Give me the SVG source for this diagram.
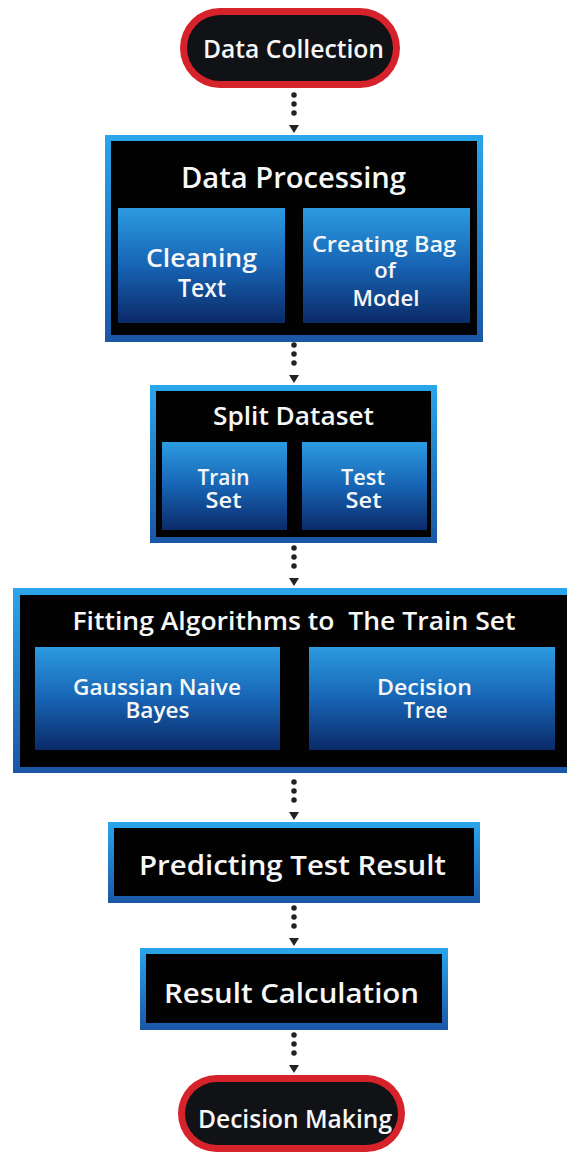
<svg xmlns="http://www.w3.org/2000/svg" width="567" height="1152" viewBox="0 0 567 1152">
  <defs>
    <linearGradient id="frame" x1="0" y1="0" x2="0" y2="1">
      <stop offset="0" stop-color="#2aa6ea"/>
      <stop offset="1" stop-color="#1a56a6"/>
    </linearGradient>
    <linearGradient id="sub" x1="0" y1="0" x2="0" y2="1">
      <stop offset="0" stop-color="#2c9be0"/>
      <stop offset="0.5" stop-color="#1764b4"/>
      <stop offset="1" stop-color="#0b2a68"/>
    </linearGradient>
    <marker id="arr" markerUnits="userSpaceOnUse" orient="auto" markerWidth="20" markerHeight="20" refX="0" refY="0" overflow="visible">
      <path d="M3,-5 L3,5 L11,0 Z" fill="#222"/>
    </marker>
    <style>
      .frame { fill: url(#frame); }
      .black { fill: #020203; }
      .sub { fill: url(#sub); }
      .pillOut { fill: #d6222a; }
      .pillIn { fill: #111216; }
      text { font-family: "Open Sans", "Liberation Sans", sans-serif; font-weight: 600; fill: #f7f7f7; text-anchor: middle; }
      .dots { stroke: #222; stroke-width: 5.5; stroke-linecap: round; stroke-dasharray: 0 9; fill: none; marker-end: url(#arr); }
    </style>
  </defs>
  <rect width="567" height="1152" fill="#ffffff"/>

  <g id="connectors">
    <line class="dots" x1="294" y1="95" x2="294" y2="122"/>
    <line class="dots" x1="294" y1="345" x2="294" y2="372"/>
    <line class="dots" x1="294" y1="548" x2="294" y2="575"/>
    <line class="dots" x1="294" y1="782" x2="294" y2="809"/>
    <line class="dots" x1="294" y1="908" x2="294" y2="935"/>
    <line class="dots" x1="294" y1="1035" x2="294" y2="1062"/>
  </g>

  <g id="data-collection">
    <rect class="pillOut" x="180" y="8" width="220" height="80" rx="40"/>
    <rect class="pillIn" x="187" y="15" width="206" height="66" rx="33"/>
    <text x="293.5" y="58" font-size="26" textLength="181" lengthAdjust="spacingAndGlyphs">Data Collection</text>
  </g>

  <g id="data-processing">
    <rect class="frame" x="105" y="135" width="378" height="207"/>
    <rect class="black" x="111" y="141" width="366" height="194"/>
    <text x="293.5" y="188" font-size="28" textLength="225" lengthAdjust="spacingAndGlyphs">Data Processing</text>
    <g id="cleaning-text">
      <rect class="sub" x="118" y="208" width="167" height="115"/>
      <text x="201.5" y="267" font-size="25" textLength="111" lengthAdjust="spacingAndGlyphs">Cleaning</text>
      <text x="202" y="297" font-size="25" textLength="48" lengthAdjust="spacingAndGlyphs">Text</text>
    </g>
    <g id="creating-bag">
      <rect class="sub" x="303" y="208" width="167" height="115"/>
      <text x="384" y="252" font-size="22" textLength="144" lengthAdjust="spacingAndGlyphs">Creating Bag</text>
      <text x="385" y="278" font-size="22">of</text>
      <text x="386" y="306" font-size="22" textLength="67" lengthAdjust="spacingAndGlyphs">Model</text>
    </g>
  </g>

  <g id="split-dataset">
    <rect class="frame" x="150" y="385" width="287" height="158"/>
    <rect class="black" x="156" y="391" width="275" height="146"/>
    <text x="293.5" y="425" font-size="25" textLength="161" lengthAdjust="spacingAndGlyphs">Split Dataset</text>
    <g id="train-set">
      <rect class="sub" x="162" y="442" width="125" height="88"/>
      <text x="223.5" y="485" font-size="22" textLength="52" lengthAdjust="spacingAndGlyphs">Train</text>
      <text x="223.5" y="508" font-size="22" textLength="36" lengthAdjust="spacingAndGlyphs">Set</text>
    </g>
    <g id="test-set">
      <rect class="sub" x="302" y="442" width="125" height="88"/>
      <text x="363" y="485" font-size="22" textLength="44" lengthAdjust="spacingAndGlyphs">Test</text>
      <text x="363.5" y="508" font-size="22" textLength="36" lengthAdjust="spacingAndGlyphs">Set</text>
    </g>
  </g>

  <g id="fitting">
    <rect class="frame" x="13" y="588" width="562" height="185"/>
    <rect class="black" x="20" y="595" width="548" height="172"/>
    <text x="294" y="630" font-size="25" textLength="443" lengthAdjust="spacingAndGlyphs" xml:space="preserve">Fitting Algorithms to  The Train Set</text>
    <g id="gaussian">
      <rect class="sub" x="35" y="647" width="245" height="103"/>
      <text x="157" y="695" font-size="21" textLength="168" lengthAdjust="spacingAndGlyphs">Gaussian Naive</text>
      <text x="157.5" y="718" font-size="21" textLength="64" lengthAdjust="spacingAndGlyphs">Bayes</text>
    </g>
    <g id="decision-tree">
      <rect class="sub" x="309" y="647" width="246" height="103"/>
      <text x="424.5" y="695" font-size="21" textLength="95" lengthAdjust="spacingAndGlyphs">Decision</text>
      <text x="425.5" y="718" font-size="21" textLength="44" lengthAdjust="spacingAndGlyphs">Tree</text>
    </g>
  </g>

  <g id="predicting">
    <rect class="frame" x="108" y="822" width="372" height="81"/>
    <rect class="black" x="114" y="828" width="360" height="68"/>
    <text x="292.5" y="875" font-size="27" textLength="307" lengthAdjust="spacingAndGlyphs">Predicting Test Result</text>
  </g>

  <g id="result-calculation">
    <rect class="frame" x="140" y="948" width="308" height="82"/>
    <rect class="black" x="146" y="954" width="296" height="69"/>
    <text x="291.5" y="1003" font-size="27" textLength="255" lengthAdjust="spacingAndGlyphs">Result Calculation</text>
  </g>

  <g id="decision-making">
    <rect class="pillOut" x="178" y="1075" width="227" height="77" rx="38.5"/>
    <rect class="pillIn" x="185" y="1082" width="213" height="63" rx="31.5"/>
    <text x="295" y="1128" font-size="25" textLength="194" lengthAdjust="spacingAndGlyphs">Decision Making</text>
  </g>
</svg>
